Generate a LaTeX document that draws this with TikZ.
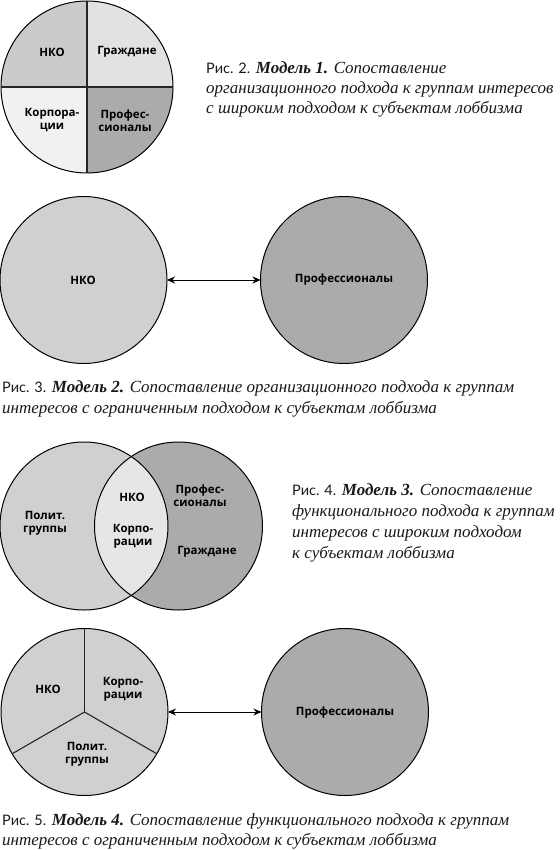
\documentclass[tikz,border=0pt]{standalone}
\usepackage{fontspec}
\setmainfont{Liberation Serif}
\newfontfamily\lblfont{Open Sans}
\newfontfamily\capsans{Lato}
\usetikzlibrary{arrows.meta}
\definecolor{gA}{HTML}{D0D0D0}
\definecolor{gD}{HTML}{ABABAB}
\definecolor{gE}{HTML}{E6E6E6}
\definecolor{qA}{HTML}{CBCBCB}
\definecolor{qB}{HTML}{E2E2E2}
\definecolor{qC}{HTML}{F1F1F1}
\definecolor{qD}{HTML}{ABABAB}
\newcommand{\rislbl}[1]{{\capsans\upshape\fontsize{14.5}{20}\selectfont #1}}
\newcommand{\modlbl}[1]{\textbf{\textit{#1}}}
\begin{document}
\begin{tikzpicture}[x=1pt,y=-1pt,
  lbl/.style={font=\lblfont\bfseries\fontsize{11.5}{13}\selectfont, align=center, inner sep=0pt, text=black},
  disc/.style={circle, draw=black, line width=1pt, inner sep=0pt, outer sep=0pt},
  capline/.style={anchor=base west, inner sep=0pt, font=\fontsize{17}{20}\selectfont\itshape, text=black!90},
  link/.style={{Stealth[length=8pt,width=7pt]}-{Stealth[length=8pt,width=7pt]}, line width=1pt},
  divider/.style={line width=1.1pt, draw=black!85}
]
\useasboundingbox (0,0) rectangle (559,850);

% ---------- Fig. 2 ----------
\begin{scope}
  \clip (87,87) circle (86);
  \fill[qA] (0,0) rectangle (87,87);
  \fill[qB] (87,0) rectangle (174,87);
  \fill[qC] (0,87) rectangle (87,174);
  \fill[qD] (87,87) rectangle (174,174);
\end{scope}
\node[disc, minimum size=172pt] (c2) at (87,87) {};
\draw[divider] (c2.north) -- (c2.south);
\draw[divider] (c2.west) -- (c2.east);
\node[lbl] (l2a) at (52,52) {НКО};
\node[lbl] (l2b) at (127,52) {Граждане};
\node[lbl] (l2c) at (52,120.5) {Корпора-\\ции};
\node[lbl] (l2d) at (125,120.5) {Профес-\\сионалы};
\node[capline] (cap2a) at (206,73.5) {\rislbl{Рис. 2.} \modlbl{Модель 1.} Сопоставление};
\node[capline] (cap2b) at (206,93.5) {организационного подхода к группам интересов};
\node[capline] (cap2c) at (206,114) {с широким подходом к субъектам лоббизма};

% ---------- Fig. 3 ----------
\node[disc, fill=gA, minimum size=167pt] (c3a) at (83.5,280) {};
\node[disc, fill=gD, minimum size=167pt] (c3b) at (344,280) {};
\draw[link] (c3a.east) -- (c3b.west);
\node[lbl] (l3a) at (83,280) {НКО};
\node[lbl] (l3b) at (344,280) {Профессионалы};
\node[capline] (cap3a) at (2,392) {\rislbl{Рис. 3.} \modlbl{Модель 2.} Сопоставление организационного подхода к группам};
\node[capline] (cap3b) at (2,413) {интересов с ограниченным подходом к субъектам лоббизма};

% ---------- Fig. 4 ----------
\fill[gA] (84,526) circle (84);
\fill[gD] (178.5,526) circle (84);
\begin{scope}
  \clip (84,526) circle (84);
  \fill[gE] (178.5,526) circle (84);
\end{scope}
\node[disc, minimum size=168pt] (c4a) at (84,526) {};
\node[disc, minimum size=168pt] (c4b) at (178.5,526) {};
\node[lbl] (l4a) at (45,523.5) {Полит.\\группы};
\node[lbl] (l4b) at (132,497) {НКО};
\node[lbl] (l4c) at (133,536.5) {Корпо-\\рации};
\node[lbl] (l4d) at (200,495.5) {Профес-\\сионалы};
\node[lbl] (l4e) at (207,552) {Граждане};
\node[capline] (cap4a) at (292,495.5) {\rislbl{Рис. 4.} \modlbl{Модель 3.} Сопоставление};
\node[capline] (cap4b) at (292,516.5) {функционального подхода к группам};
\node[capline] (cap4c) at (292,537.5) {интересов с широким подходом};
\node[capline] (cap4d) at (292,558) {к субъектам лоббизма};

% ---------- Fig. 5 ----------
\node[disc, fill=gA, minimum size=167pt] (c5a) at (84.5,712) {};
\draw[divider] (c5a.center) -- (c5a.90);
\draw[divider] (c5a.center) -- (c5a.210);
\draw[divider] (c5a.center) -- (c5a.330);
\node[disc, fill=gD, minimum size=167pt] (c5b) at (345,712) {};
\draw[link] (c5a.east) -- (c5b.west);
\node[lbl] (l5a) at (48,689) {НКО};
\node[lbl] (l5b) at (123,689) {Корпо-\\рации};
\node[lbl] (l5c) at (87,754.5) {Полит.\\группы};
\node[lbl] (l5d) at (345,713) {Профессионалы};
\node[capline] (cap5a) at (2,825) {\rislbl{Рис. 5.} \modlbl{Модель 4.} Сопоставление функционального подхода к группам};
\node[capline] (cap5b) at (2,845) {интересов с ограниченным подходом к субъектам лоббизма};
\end{tikzpicture}
\end{document}
